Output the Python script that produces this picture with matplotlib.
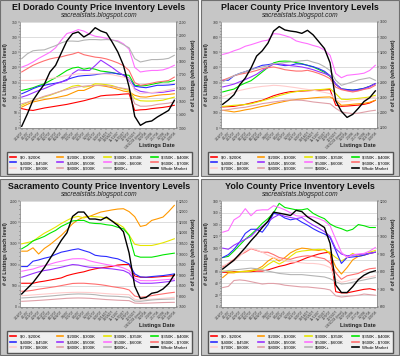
import matplotlib
matplotlib.use('Agg')
import matplotlib.pyplot as plt
from matplotlib.patches import Rectangle
from matplotlib.lines import Line2D
from matplotlib.ticker import AutoMinorLocator

plt.rcParams['font.family'] = ['Liberation Sans', 'DejaVu Sans']

# ---------------- data ----------------
dates = ["3/18/07", "4/1/07", "4/15/07", "4/29/07", "5/13/07", "5/27/07", "6/10/07",
         "6/24/07", "7/8/07", "7/22/07", "8/5/07", "8/19/07", "9/2/07", "9/16/07",
         "9/30/07", "10/14/07", "10/28/07", "11/11/07", "11/25/07", "12/9/07",
         "12/23/07", "1/6/2008 (new)", "1/20/08", "2/3/08", "2/17/08", "3/2/08",
         "3/16/08", "3/30/08"]

series_labels = ["$0 - $200K", "$200K - $300K", "$300K - $350K", "$350K - $400K",
                 "$400K - $450K", "$450K - $500K", "$500K - $600K", "$600K - $700K",
                 "$700K - $800K", "$800K - $900K", "$900K+", "Whole Market"]
series_colors = ["#ff0000", "#ff9900", "#e6e600", "#00e600", "#2b2bff", "#9933ff",
                 "#ff70ff", "#ff6f6f", "#ffcccc", "#e0a0a8", "#b4b4b4", "#000000"]

# El Dorado County
eld_0_200 = [64, 60, 58, 62, 66, 69, 72, 75, 78, 82, 86, 90, 95, 100, 106, 108, 109, 110, 112, 113, 58, 60, 61, 64, 66, 68, 71, 75]
eld_200_300 = [69, 78, 86, 90, 94, 97, 100, 104, 108, 116, 124, 124, 132, 141, 140, 137, 133, 128, 122, 119, 108, 103, 102, 105, 108, 110, 111, 113]
eld_300_350 = [75, 84, 91, 97, 103, 108, 115, 122, 130, 138, 141, 135, 138, 146, 145, 143, 140, 134, 129, 124, 97, 90, 89, 89, 90, 92, 97, 102]
eld_350_400 = [124, 128, 133, 140, 146, 156, 166, 178, 190, 198, 201, 194, 198, 194, 188, 186, 183, 179, 176, 174, 141, 139, 140, 144, 148, 152, 152, 157]
eld_400_450 = [113, 121, 130, 137, 141, 145, 148, 152, 160, 166, 171, 173, 174, 176, 179, 181, 182, 179, 176, 163, 138, 135, 133, 137, 141, 141, 142, 144]
eld_450_500 = [102, 108, 116, 124, 130, 138, 146, 152, 157, 180, 192, 190, 190, 206, 224, 212, 200, 186, 174, 157, 130, 121, 118, 116, 117, 118, 121, 124]
eld_500_600 = [201, 208, 218, 230, 240, 250, 265, 290, 312, 317, 325, 320, 310, 303, 300, 296, 290, 288, 278, 260, 200, 185, 188, 190, 190, 192, 198, 207]
eld_600_700 = [185, 196, 207, 215, 222, 228, 232, 235, 240, 244, 250, 242, 238, 234, 232, 228, 222, 215, 206, 190, 150, 141, 144, 148, 152, 154, 157, 168]
eld_700_800 = [157, 157, 157, 158, 160, 163, 166, 170, 174, 176, 179, 179, 179, 179, 179, 178, 176, 172, 168, 163, 124, 113, 115, 117, 119, 122, 126, 130]
eld_800_900 = [80, 85, 91, 98, 105, 110, 116, 122, 127, 132, 136, 138, 140, 140, 141, 140, 137, 134, 131, 128, 80, 72, 72, 74, 78, 80, 82, 86]
eld_900_up = [229, 245, 255, 257, 258, 265, 272, 281, 287, 287, 286, 290, 292, 292, 291, 292, 291, 285, 275, 265, 229, 218, 222, 226, 226, 227, 230, 240]
eld_whole = [1313, 1406, 1509, 1572, 1630, 1723, 1773, 1866, 1957, 2012, 2025, 1987, 2012, 2057, 2032, 2017, 1949, 1874, 1773, 1610, 1388, 1320, 1345, 1353, 1383, 1408, 1433, 1509]

# Placer County
pla_0_200 = [139, 141, 143, 150, 156, 165, 174, 183, 198, 213, 224, 233, 240, 242, 244, 246, 248, 250, 252, 253, 150, 143, 145, 148, 151, 156, 165, 183]
pla_200_300 = [117, 112, 106, 112, 120, 126, 135, 143, 150, 160, 168, 176, 183, 188, 192, 195, 199, 202, 204, 205, 183, 150, 153, 157, 160, 163, 170, 183]
pla_300_350 = [143, 146, 150, 152, 155, 160, 170, 180, 190, 203, 214, 224, 234, 240, 246, 249, 251, 253, 256, 260, 227, 190, 188, 192, 196, 200, 205, 216]
pla_350_400 = [238, 248, 257, 280, 297, 312, 340, 370, 400, 430, 440, 442, 440, 432, 425, 414, 403, 386, 368, 340, 290, 258, 254, 250, 255, 262, 275, 293]
pla_400_450 = [315, 315, 345, 360, 372, 385, 400, 414, 418, 425, 418, 412, 414, 424, 422, 414, 405, 392, 375, 345, 290, 258, 254, 250, 255, 262, 275, 293]
pla_450_500 = [271, 280, 290, 305, 320, 337, 355, 381, 400, 422, 425, 418, 412, 408, 403, 395, 385, 372, 360, 345, 290, 258, 248, 244, 248, 258, 272, 293]
pla_500_600 = [486, 495, 510, 522, 540, 550, 562, 574, 580, 623, 620, 610, 598, 575, 565, 557, 545, 535, 515, 480, 360, 332, 348, 352, 356, 362, 380, 414]
pla_600_700 = [315, 330, 345, 355, 362, 370, 380, 392, 398, 403, 395, 385, 380, 376, 376, 381, 372, 360, 345, 326, 270, 253, 245, 238, 245, 255, 262, 282]
pla_700_800 = [205, 220, 236, 248, 256, 264, 270, 275, 278, 282, 280, 276, 271, 266, 260, 255, 250, 242, 235, 227, 185, 172, 176, 183, 187, 192, 198, 205]
pla_800_900 = [117, 122, 128, 133, 137, 145, 152, 161, 166, 172, 177, 183, 185, 184, 183, 178, 172, 168, 164, 160, 130, 106, 100, 95, 98, 105, 112, 117]
pla_900_up = [304, 325, 345, 360, 372, 385, 395, 403, 410, 425, 428, 432, 436, 440, 444, 447, 435, 425, 405, 380, 315, 282, 293, 305, 318, 325, 332, 315]
pla_whole = [2513, 2570, 2640, 2770, 2860, 2990, 3150, 3220, 3320, 3480, 3540, 3495, 3480, 3470, 3450, 3490, 3430, 3340, 3250, 3060, 2560, 2420, 2340, 2380, 2460, 2550, 2600, 2690]

# Sacramento County
sac_0_200 = [560, 560, 560, 590, 610, 635, 660, 686, 740, 775, 805, 830, 870, 900, 923, 940, 960, 990, 1002, 1002, 730, 702, 700, 700, 710, 720, 730, 741]
sac_200_300 = [1317, 1317, 1396, 1250, 1380, 1470, 1580, 1688, 1820, 1964, 2060, 2121, 2137, 2190, 2240, 2265, 2290, 2310, 2318, 2250, 2130, 1900, 1930, 2042, 2080, 2121, 2250, 2397]
sac_300_350 = [1490, 1520, 1550, 1650, 1740, 1810, 1885, 1970, 2042, 2110, 2137, 2100, 2137, 2130, 2121, 2090, 2030, 1964, 1880, 1700, 1480, 1451, 1451, 1451, 1480, 1515, 1560, 1609]
sac_350_400 = [1372, 1450, 1560, 1610, 1664, 1740, 1806, 1900, 1964, 2030, 2042, 2042, 1985, 1970, 1964, 1940, 1924, 1880, 1845, 1688, 1214, 1175, 1175, 1175, 1200, 1230, 1250, 1270]
sac_400_450 = [954, 954, 1080, 1110, 1150, 1180, 1240, 1293, 1320, 1350, 1372, 1330, 1290, 1220, 1200, 1191, 1160, 1136, 1080, 1017, 781, 710, 702, 718, 730, 741, 760, 781]
sac_450_500 = [702, 745, 790, 830, 860, 880, 910, 938, 970, 1002, 990, 960, 938, 930, 923, 910, 899, 880, 860, 797, 630, 560, 560, 560, 570, 584, 600, 623]
sac_500_600 = [844, 870, 895, 940, 975, 1010, 1050, 1080, 1110, 1136, 1140, 1136, 1090, 1057, 1030, 1002, 980, 960, 920, 860, 680, 623, 620, 620, 630, 640, 650, 662]
sac_600_700 = [371, 378, 395, 420, 440, 460, 480, 505, 530, 555, 560, 560, 550, 540, 525, 505, 480, 460, 440, 402, 260, 229, 245, 268, 290, 310, 330, 347]
sac_700_800 = [268, 275, 285, 295, 305, 315, 325, 335, 340, 345, 347, 345, 342, 335, 325, 315, 305, 300, 295, 290, 180, 166, 175, 185, 195, 205, 215, 229]
sac_800_900 = [134, 140, 148, 156, 165, 175, 185, 195, 205, 210, 213, 210, 205, 195, 185, 175, 168, 160, 155, 150, 92, 87, 90, 95, 100, 105, 108, 110]
sac_900_up = [213, 220, 228, 238, 248, 258, 270, 282, 295, 303, 308, 305, 300, 290, 270, 260, 255, 250, 240, 230, 140, 134, 150, 165, 175, 180, 185, 189]
sac_whole = [8115, 8380, 8650, 9000, 9360, 9780, 10200, 10640, 11000, 11773, 11979, 11979, 11650, 11650, 11600, 11742, 11550, 11350, 11050, 10050, 8480, 7900, 7950, 8147, 8200, 8350, 8600, 9030]

# Yolo County
yol_0_200 = [59, 59, 60, 60, 60, 60, 61, 61, 63, 66, 69, 71, 74, 76, 80, 84, 87, 90, 92, 93, 26, 24, 24, 26, 28, 30, 31, 29]
yol_200_300 = [50, 58, 58, 60, 61, 62, 64, 69, 78, 84, 78, 84, 92, 97, 100, 99, 97, 96, 98, 90, 68, 56, 67, 80, 86, 88, 91, 93]
yol_300_350 = [61, 60, 59, 60, 60, 61, 63, 65, 72, 78, 73, 78, 86, 93, 95, 96, 97, 98, 97, 92, 84, 78, 84, 91, 86, 88, 93, 96]
yol_350_400 = [84, 86, 95, 105, 115, 123, 132, 142, 150, 160, 176, 169, 167, 165, 165, 167, 159, 154, 150, 141, 136, 133, 129, 132, 140, 138, 135, 135]
yol_400_450 = [84, 89, 98, 110, 125, 132, 132, 127, 140, 159, 157, 151, 148, 150, 144, 139, 133, 128, 124, 118, 96, 74, 84, 85, 86, 88, 91, 93]
yol_450_500 = [100, 98, 105, 110, 115, 120, 130, 137, 145, 152, 157, 154, 152, 150, 152, 145, 139, 134, 128, 120, 99, 90, 87, 88, 89, 90, 91, 93]
yol_500_600 = [127, 130, 148, 154, 167, 155, 164, 165, 165, 172, 169, 165, 160, 155, 154, 154, 153, 150, 146, 138, 115, 93, 84, 89, 90, 91, 95, 101]
yol_600_700 = [68, 74, 81, 88, 93, 99, 96, 93, 93, 89, 84, 82, 81, 84, 86, 87, 86, 84, 82, 75, 58, 47, 53, 55, 57, 62, 65, 66]
yol_700_800 = [70, 73, 78, 86, 96, 100, 97, 93, 88, 84, 81, 78, 77, 76, 75, 74, 74, 73, 71, 67, 47, 42, 44, 47, 48, 50, 51, 53]
yol_800_900 = [33, 35, 45, 46, 45, 43, 41, 39, 40, 40, 39, 37, 36, 35, 34, 34, 33, 32, 31, 29, 19, 17, 18, 19, 20, 22, 21, 20]
yol_900_up = [60, 62, 63, 64, 65, 66, 65, 63, 61, 59, 57, 56, 55, 55, 55, 54, 53, 52, 51, 48, 43, 39, 40, 42, 44, 46, 48, 50]
yol_whole = [815, 840, 865, 900, 936, 975, 1010, 1050, 1085, 1137, 1131, 1125, 1118, 1147, 1140, 1110, 1090, 1071, 1050, 960, 725, 682, 682, 715, 755, 780, 796, 805]

# ---------------- layout ----------------
W, H = 400, 356
fig = plt.figure(figsize=(W / 100, H / 100), dpi=100, facecolor='white')


def fx(px):
    return px / W


def fy(py):
    return 1 - py / H


panels = [
    (0, 0, "El Dorado County Price Inventory Levels",
     [eld_0_200, eld_200_300, eld_300_350, eld_350_400, eld_400_450, eld_450_500,
      eld_500_600, eld_600_700, eld_700_800, eld_800_900, eld_900_up], eld_whole,
     (0, 350, 50), (1300, 2100, 100)),
    (201, 0, "Placer County Price Inventory Levels",
     [pla_0_200, pla_200_300, pla_300_350, pla_350_400, pla_400_450, pla_450_500,
      pla_500_600, pla_600_700, pla_700_800, pla_800_900, pla_900_up], pla_whole,
     (0, 700, 100), (2200, 3600, 200)),
    (0, 179, "Sacramento County Price Inventory Levels",
     [sac_0_200, sac_200_300, sac_300_350, sac_350_400, sac_400_450, sac_450_500,
      sac_500_600, sac_600_700, sac_700_800, sac_800_900, sac_900_up], sac_whole,
     (0, 2500, 500), (7500, 12500, 500)),
    (201, 179, "Yolo County Price Inventory Levels",
     [yol_0_200, yol_200_300, yol_300_350, yol_350_400, yol_400_450, yol_450_500,
      yol_500_600, yol_600_700, yol_700_800, yol_800_900, yol_900_up], yol_whole,
     (0, 180, 20), (600, 1200, 100)),
]

PW, PH = 198, 176
x = list(range(len(dates)))
order = [r * 4 + c for c in range(4) for r in range(3)]

for ox, oy, title, series, whole, lt, rt in panels:
    fig.add_artist(Rectangle((fx(ox), fy(oy + PH)), PW / W, PH / H,
                             transform=fig.transFigure, facecolor='#c6c6c6',
                             edgecolor='#707070', lw=0.8, zorder=-10))
    fig.text(fx(ox + 99), fy(oy + 7), title, ha='center', va='center',
             fontsize=6.4, fontweight='bold', color='#111111')
    fig.text(fx(ox + 99), fy(oy + 15.5), 'sacrealstats.blogspot.com', ha='center',
             va='center', fontsize=4.8, style='italic', color='#222222')

    ax = fig.add_axes([fx(ox + 20), fy(oy + 128), 156 / W, 106 / H])
    ax.set_facecolor('white')
    for s, c in zip(series, series_colors[:-1]):
        ax.plot(x, s, color=c, lw=0.8, solid_joinstyle='round')
    ax.set_xlim(-0.3, len(dates) - 0.7)
    ax.set_ylim(lt[0], lt[1])
    ax.set_yticks(list(range(lt[0], lt[1] + 1, lt[2])))
    ax.yaxis.set_minor_locator(AutoMinorLocator(5))
    ax.grid(axis='y', color='#cfcfcf', lw=0.5)
    ax.set_axisbelow(True)
    ax.set_xticks(x)
    ax.set_xticklabels(dates, rotation=45, ha='right', rotation_mode='anchor')
    ax.tick_params(axis='both', labelsize=2.4, length=1.2, width=0.3, pad=0.8,
                   colors='#333333')
    ax.tick_params(axis='y', which='minor', length=0.7, width=0.3)
    for sp in ax.spines.values():
        sp.set_color('#888888')
        sp.set_linewidth(0.4)
    ax.spines['top'].set_visible(False)

    ax2 = ax.twinx()
    ax2.plot(x, whole, color='black', lw=1.0)
    ax2.set_ylim(rt[0], rt[1])
    ax2.set_yticks(list(range(rt[0], rt[1] + 1, rt[2])))
    ax2.tick_params(axis='y', labelsize=2.4, length=1.2, width=0.3, pad=0.8,
                    colors='#333333')
    for sp in ax2.spines.values():
        sp.set_color('#888888')
        sp.set_linewidth(0.4)
    ax2.spines['top'].set_visible(False)

    fig.text(fx(ox + 6), fy(oy + 75), '# of Listings (each level)', rotation=90,
             ha='center', va='center', fontsize=3.9, fontweight='bold', color='#222222')
    fig.text(fx(ox + 193), fy(oy + 75), '# of Listings (whole market)', rotation=90,
             ha='center', va='center', fontsize=3.9, fontweight='bold', color='#222222')
    fig.text(fx(ox + 157), fy(oy + 146), 'Listings Date', ha='center', va='center',
             fontsize=4.1, fontweight='bold', color='#222222')

    handles = [Line2D([], [], color=c, lw=1.2) for c in series_colors]
    labels = [lab.replace('$', r'\$') for lab in series_labels]
    fig.legend([handles[i] for i in order], [labels[i] for i in order], ncol=4,
               loc='center', bbox_to_anchor=(fx(ox + 99.5), fy(oy + 163)),
               fontsize=3.1, frameon=True, fancybox=False, edgecolor='#555555',
               facecolor='#efefef', framealpha=1, handlelength=1.5,
               handletextpad=0.8, columnspacing=2.2, borderpad=0.6,
               labelspacing=0.45)

fig.savefig('out.png', dpi=100, facecolor='white')
